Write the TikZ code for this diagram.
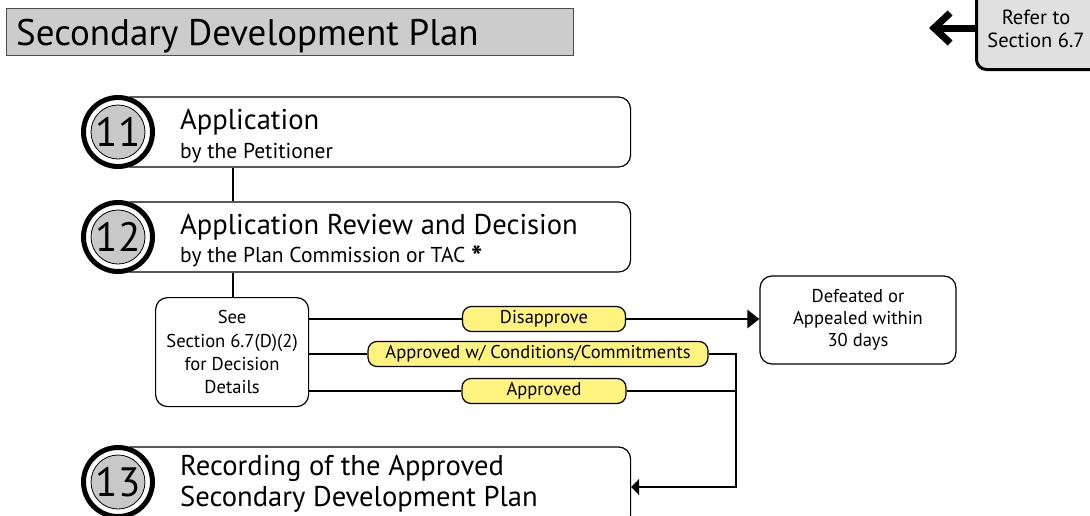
\documentclass[tikz,border=0pt]{standalone}
\usepackage{fontspec}
\setmainfont{PT Sans}
\usetikzlibrary{arrows.meta,positioning,calc}
\definecolor{pillyellow}{RGB}{255,243,128}
\definecolor{titlegray}{RGB}{204,204,204}
\definecolor{refergray}{RGB}{224,224,224}
\definecolor{numgray}{RGB}{200,200,200}
\newcommand{\fs}[1]{\fontsize{#1}{#1}\selectfont}
\tikzset{
  stepbox/.style={draw=black, line width=1.2pt, rounded corners=12pt, fill=white, minimum height=70pt, minimum width=512pt, anchor=west},
  ring/.style={circle, draw=black, line width=5pt, fill=white, minimum size=69pt, inner sep=0pt},
  num/.style={circle, draw=black, line width=0.8pt, fill=numgray, minimum size=54pt, inner sep=0pt, font=\fs{41}},
  mainlbl/.style={anchor=base west, inner sep=0pt, font=\fs{28.6}},
  sublbl/.style={anchor=base west, inner sep=0pt, font=\fs{21.5}},
  pill/.style={draw=black, line width=1.2pt, rounded corners=9pt, fill=pillyellow, minimum height=25pt, inner sep=0pt, font=\fs{18.5}},
  smallbox/.style={draw=black, line width=1.2pt, rounded corners=12pt, fill=white, align=center, font=\fs{18.6}, inner sep=0pt},
  conn/.style={draw=black, line width=2.8pt},
}
\begin{document}
\begin{tikzpicture}[x=1pt,y=-1pt]
\clip (0,0) rectangle (1090,515);
\fill[white] (0,0) rectangle (1090,515);
% title
\node[draw=black!70, line width=1pt, fill=titlegray, minimum width=567pt, minimum height=47pt, anchor=north west, inner sep=0pt] (title) at (6,8) {};
\node[anchor=base west, inner sep=0pt, font=\fs{37}] (titletext) at (16,45) {Secondary Development Plan};
% refer
\node[draw=black, line width=3pt, rounded corners=10pt, fill=refergray, minimum width=140pt, minimum height=98pt, anchor=north west, inner sep=0pt] (refer) at (975,-30) {};
\node[inner sep=0pt, font=\fs{20.5}, align=center] (refertext) at (1036,29) {Refer to\\[3pt]Section 6.7};
\coordinate (refertip) at (929,28);
\draw[line width=7pt, -{Straight Barb[length=16pt, width=30pt, line width=7pt]}] (refer.west |- refertip) -- (refertip);
% boxes
\node[stepbox] (b11) at (118,132) {};
\node[stepbox] (b12) at (118,237) {};
\node[stepbox, minimum height=80pt] (b13) at (118,487) {};
\draw[conn] (b11.south -| 233,0) coordinate (t11) -- (b12.north -| t11);
% circles
\foreach \n/\y in {11/132,12/237,13/482}{
  \node[ring] (r\n) at (118,\y) {};
  \node[num] (c\n) at (r\n) {\n};
}
\node[mainlbl] (l11a) at (180,129) {Application};
\node[sublbl] (l11b) at (180,158) {by the Petitioner};
\node[mainlbl] (l12a) at (180,234) {Application Review and Decision};
\node[sublbl] (l12b) at (180,262) {by the Plan Commission or TAC {\fs{30}\raisebox{-5pt}{\textbf{*}}}};
\node[mainlbl] (l13a) at (180,475) {Recording of the Approved};
\node[mainlbl] (l13b) at (180,506) {Secondary Development Plan};
% see box
\node[smallbox, minimum width=153pt, minimum height=109pt, anchor=north west] (see) at (155,297) {See\\[4.6pt]Section 6.7(D)(2)\\[4.6pt]for Decision\\[4.6pt]Details};
\draw[conn] (t11 |- b12.south) -- (t11 |- see.north);
% pills
\node[pill, minimum width=163pt] (dis) at (544,319) {Disapprove};
\node[pill, minimum width=340pt] (awc) at (538,354) {Approved w/ Conditions/Commitments};
\node[pill, minimum width=164pt] (app) at (544,391) {Approved};
% defeated
\node[smallbox, minimum width=196pt, minimum height=88pt] (def) at (858,320) {Defeated or\\[3.6pt]Appealed within\\[3.6pt]30 days};
% connectors
\draw[conn] (dis.west -| see.east) -- (dis.west);
\draw[conn, -{Triangle[length=12pt,width=18pt]}] (dis.east) -- (dis.east -| def.west);
\draw[conn] (awc.west -| see.east) -- (awc.west);
\draw[conn] (app.west -| see.east) -- (app.west);
\coordinate (turn) at (736,354);
\draw[conn] (app.east) -- (app.east -| turn);
\draw[conn, -{Triangle[length=8pt,width=16pt]}] (awc.east) -- (turn) |- (b13.east);
\end{tikzpicture}
\end{document}
